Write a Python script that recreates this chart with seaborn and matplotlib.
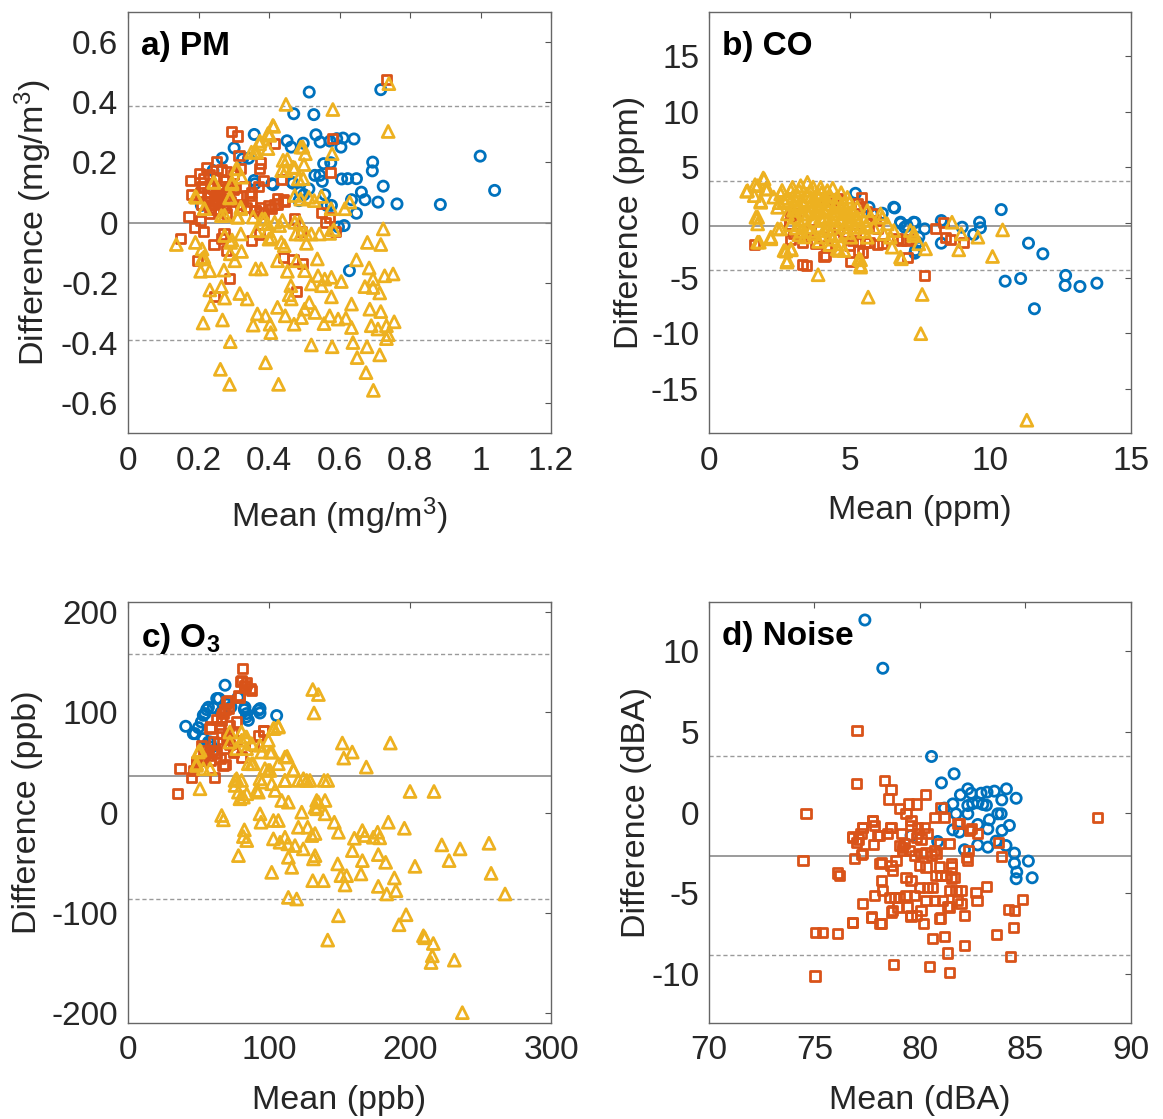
import pandas as pd
import matplotlib
matplotlib.use('Agg')
import matplotlib.pyplot as plt
import seaborn as sns
from matplotlib.ticker import FuncFormatter

# ---- data (mean, difference) ----
pm_blue = [(0.514, 0.434), (0.717, 0.442), (0.470, 0.362), (0.527, 0.359), (0.358, 0.293), (0.533, 0.292),
           (0.451, 0.272), (0.463, 0.251), (0.497, 0.264), (0.573, 0.271), (0.610, 0.281), (0.641, 0.278),
           (0.604, 0.251), (0.301, 0.248), (0.999, 0.221), (0.342, 0.214), (0.267, 0.214), (0.575, 0.199),
           (0.694, 0.201), (0.693, 0.172), (1.040, 0.107), (0.544, 0.157), (0.551, 0.137), (0.623, 0.146),
           (0.648, 0.146), (0.724, 0.121), (0.513, 0.112), (0.468, 0.131), (0.412, 0.126), (0.358, 0.140),
           (0.558, 0.093), (0.662, 0.101), (0.499, 0.093), (0.634, 0.076), (0.672, 0.076), (0.709, 0.068),
           (0.763, 0.062), (0.886, 0.060), (0.485, 0.073), (0.577, 0.057), (0.648, 0.031), (0.613, -0.010),
           (0.628, -0.160), (0.208, 0.057), (0.241, 0.173), (0.360, 0.129), (0.325, 0.212), (0.408, 0.129),
           (0.465, 0.134), (0.488, 0.101), (0.530, 0.157), (0.555, 0.196), (0.545, 0.268), (0.592, 0.279),
           (0.564, 0.057), (0.597, -0.015), (0.606, 0.145)]
pm_orange = [(0.733, 0.476), (0.293, 0.304), (0.310, 0.288), (0.581, 0.279), (0.416, 0.262), (0.315, 0.223),
             (0.251, 0.204), (0.376, 0.198), (0.374, 0.179), (0.222, 0.184), (0.203, 0.164), (0.574, 0.166),
             (0.178, 0.140), (0.435, 0.142), (0.180, 0.093), (0.208, 0.118), (0.345, 0.090), (0.373, 0.034),
             (0.360, 0.040), (0.425, 0.062), (0.444, 0.071), (0.407, 0.046), (0.549, 0.034), (0.572, 0.018),
             (0.560, 0.001), (0.473, 0.012), (0.173, 0.021), (0.206, 0.007), (0.189, -0.016), (0.215, -0.030),
             (0.148, -0.054), (0.244, -0.073), (0.272, -0.038), (0.265, -0.054), (0.350, -0.060), (0.374, -0.038),
             (0.492, -0.029), (0.589, -0.029), (0.196, -0.127), (0.279, -0.093), (0.440, -0.116), (0.468, -0.124),
             (0.495, -0.136), (0.287, -0.186), (0.478, -0.229), (0.246, -0.247),
             (0.215, 0.120), (0.225, 0.100), (0.235, 0.130), (0.245, 0.090), (0.255, 0.110), (0.265, 0.080),
             (0.225, 0.070), (0.240, 0.060), (0.250, 0.075), (0.260, 0.095), (0.270, 0.060), (0.280, 0.090),
             (0.230, 0.085), (0.245, 0.045), (0.260, 0.040), (0.275, 0.050), (0.290, 0.070), (0.300, 0.110),
             (0.310, 0.085), (0.285, 0.120), (0.270, 0.140), (0.250, 0.150), (0.230, 0.160), (0.215, 0.145),
             (0.205, 0.100), (0.240, 0.115), (0.255, 0.065), (0.265, 0.120), (0.235, 0.050), (0.280, 0.030),
             (0.320, 0.060), (0.335, 0.050), (0.350, 0.070), (0.360, 0.040), (0.375, 0.050), (0.385, 0.030),
             (0.400, 0.055), (0.415, 0.060), (0.425, 0.080), (0.440, 0.075), (0.350, 0.100), (0.330, 0.120),
             (0.370, 0.120), (0.385, 0.140), (0.280, 0.170), (0.300, 0.160), (0.265, 0.175), (0.320, 0.180),
             (0.230, 0.030), (0.210, 0.060)]
pm_yellow = [(0.740, 0.462), (0.448, 0.393), (0.581, 0.376), (0.738, 0.303), (0.413, 0.320), (0.397, 0.296),
             (0.374, 0.271), (0.350, 0.234), (0.365, 0.234), (0.397, 0.246), (0.496, 0.251), (0.503, 0.229),
             (0.579, 0.229), (0.452, 0.210), (0.499, 0.193), (0.473, 0.182), (0.448, 0.173), (0.310, 0.179),
             (0.322, 0.151), (0.497, 0.146), (0.244, 0.134), (0.295, 0.129), (0.191, 0.087), (0.288, 0.082),
             (0.473, 0.090), (0.528, 0.073), (0.549, 0.087), (0.629, 0.068), (0.615, 0.046), (0.216, 0.046),
             (0.320, 0.051), (0.265, 0.023), (0.312, 0.018), (0.388, 0.012), (0.416, 0.001), (0.473, 0.001),
             (0.487, 0.001), (0.430, -0.010), (0.364, -0.027), (0.397, -0.027), (0.520, -0.038), (0.543, -0.038),
             (0.572, -0.036), (0.584, -0.024), (0.724, -0.021), (0.137, -0.073), (0.191, -0.066), (0.210, -0.088),
             (0.295, -0.058), (0.322, -0.096), (0.291, -0.066), (0.407, -0.049), (0.435, -0.066), (0.443, -0.077),
             (0.506, -0.069), (0.679, -0.066), (0.717, -0.073), (0.210, -0.121), (0.303, -0.127), (0.424, -0.127),
             (0.537, -0.121), (0.478, -0.127), (0.648, -0.124), (0.206, -0.162), (0.232, -0.160), (0.272, -0.158),
             (0.362, -0.154), (0.378, -0.154), (0.452, -0.162), (0.501, -0.160), (0.684, -0.151), (0.539, -0.177),
             (0.558, -0.188), (0.577, -0.182), (0.605, -0.196), (0.520, -0.204), (0.549, -0.210), (0.695, -0.188),
             (0.728, -0.177), (0.752, -0.171), (0.672, -0.213), (0.695, -0.216), (0.462, -0.210), (0.265, -0.213),
             (0.232, -0.224), (0.317, -0.236), (0.338, -0.254), (0.457, -0.240), (0.463, -0.254), (0.274, -0.251),
             (0.714, -0.234), (0.577, -0.247), (0.235, -0.273), (0.514, -0.266), (0.634, -0.271), (0.424, -0.282),
             (0.501, -0.288), (0.530, -0.299), (0.367, -0.304), (0.390, -0.310), (0.446, -0.310), (0.492, -0.316),
             (0.572, -0.310), (0.596, -0.321), (0.618, -0.318), (0.686, -0.288), (0.717, -0.296), (0.213, -0.334),
             (0.268, -0.324), (0.355, -0.341), (0.403, -0.338), (0.471, -0.338), (0.556, -0.336), (0.634, -0.349),
             (0.690, -0.343), (0.709, -0.354), (0.733, -0.343), (0.755, -0.330), (0.405, -0.366), (0.738, -0.373),
             (0.733, -0.386), (0.290, -0.396), (0.520, -0.407), (0.579, -0.413), (0.638, -0.399), (0.678, -0.413),
             (0.714, -0.440), (0.650, -0.449), (0.390, -0.466), (0.262, -0.488), (0.675, -0.499), (0.288, -0.538),
             (0.427, -0.538), (0.696, -0.558),
             (0.411, 0.323), (0.402, 0.290), (0.373, 0.262), (0.359, 0.234), (0.490, 0.251), (0.440, 0.207),
             (0.468, 0.184), (0.483, 0.145), (0.436, 0.173), (0.307, 0.179), (0.295, 0.134), (0.243, 0.134),
             (0.194, 0.084), (0.217, 0.046), (0.290, 0.084), (0.320, 0.046), (0.274, 0.024), (0.310, 0.018),
             (0.355, 0.018), (0.380, 0.012), (0.396, -0.004), (0.438, 0.007), (0.490, 0.078), (0.513, 0.084),
             (0.576, 0.046), (0.476, -0.038), (0.490, -0.038), (0.505, -0.038), (0.274, -0.043), (0.320, -0.038),
             (0.400, -0.055), (0.290, -0.104), (0.215, -0.115)]

co_blue = [(5.21, 2.64), (6.60, 1.32), (5.80, 0.78), (6.16, 0.84), (6.81, -0.06), (6.96, -0.42), (7.32, 0.00),
           (7.67, -0.57), (8.26, 0.18), (9.00, -0.42), (9.41, -1.08), (9.62, 0.03), (9.65, -0.48), (10.39, 1.17),
           (7.32, -2.76), (8.26, -1.86), (11.36, -1.86), (11.87, -2.82), (10.53, -5.29), (11.08, -5.05),
           (11.57, -7.78), (12.68, -4.77), (12.66, -5.68), (13.19, -5.77), (13.79, -5.47), (4.27, 2.13),
           (7.46, -1.32), (5.69, 1.38), (6.57, 1.38), (6.81, 0.03), (7.04, -0.27), (7.28, 0.03), (7.40, -1.77),
           (7.34, -2.52)]
co_orange = [(5.43, 2.28), (5.35, 1.38), (4.44, 1.98), (1.61, -2.01), (3.32, -3.81), (3.46, -3.87), (4.09, -3.06),
             (4.17, -2.16), (5.04, -3.51), (5.45, -2.67), (5.69, -1.77), (5.98, -1.98), (6.16, -1.92), (6.84, -1.62),
             (7.05, -3.12), (7.13, -1.56), (8.05, -0.57), (8.40, -1.32), (8.58, -1.56), (9.05, -1.77), (8.35, 0.03),
             (7.66, -4.77), (2.85, -0.12), (3.09, 0.78), (3.32, -1.77), (4.03, -1.32), (5.10, -1.62), (5.27, 1.68),
             (4.56, 2.13), (4.15, 2.13), (5.80, 0.78), (5.92, 0.18), (2.91, 0.93), (2.85, -0.12), (4.21, -2.07),
             (4.15, -2.97), (5.33, -2.52), (5.57, -1.77), (6.69, -1.47), (7.04, -1.62), (3.60, -0.60), (4.80, -0.90),
             (5.60, 1.00), (6.00, -0.50), (5.20, -1.00), (4.60, -0.60), (3.00, -1.00), (3.80, -1.90), (5.00, -2.10),
             (2.90, -1.50)]
co_yellow = [(1.96, 3.93), (1.73, 3.33), (1.37, 2.88), (2.08, 3.03), (1.61, 2.43), (1.84, 1.83), (1.67, 0.48),
             (1.73, -0.12), (2.55, 2.58), (2.67, 1.98), (2.44, 1.38), (2.79, 0.78), (2.97, 3.18), (3.26, 3.33),
             (3.50, 3.63), (3.97, 3.18), (3.15, 2.43), (3.38, 1.68), (3.62, 2.28), (3.85, 1.38), (4.09, 1.98),
             (4.27, 1.68), (4.44, 1.08), (4.68, 1.38), (4.92, 2.28), (5.09, 1.08), (5.27, 0.48), (5.51, 0.18),
             (5.74, 0.48), (6.10, 0.78), (6.34, -0.12), (6.57, -0.72), (6.22, -1.02), (3.50, 0.78), (3.74, 0.18),
             (3.26, -0.12), (3.03, 0.48), (3.97, 0.48), (4.21, 0.18), (4.44, -0.12), (4.68, 0.18), (4.92, -0.12),
             (5.15, -0.42), (5.39, -0.42), (3.50, -0.42), (3.74, -1.02), (4.09, -0.72), (4.33, -1.02), (4.56, -2.37),
             (4.80, -2.52), (4.68, -1.92), (2.67, -2.52), (2.91, -2.37), (2.79, -3.42), (2.55, -0.57), (2.20, -1.32),
             (1.79, -1.77), (5.33, -3.27), (5.39, -3.87), (7.16, -0.72), (7.28, -1.17), (6.81, -3.12), (5.04, -1.32),
             (5.63, -1.32), (5.86, -0.42), (3.15, 1.38), (3.85, 2.58), (4.21, 2.88), (4.56, 2.28), (3.38, 0.78),
             (4.09, 1.08), (4.92, 0.78), (4.44, 0.48), (3.62, 1.08), (3.97, 1.68), (4.80, 1.68), (5.27, 1.38),
             (5.63, 1.08), (3.03, 1.68), (2.91, 2.88), (3.88, -4.71), (5.66, -6.73), (7.58, -6.49), (7.53, -10.03),
             (11.30, -17.84), (8.64, 0.03), (8.97, -1.02), (9.56, -1.32), (8.88, -2.46), (10.44, -0.66),
             (10.08, -3.06), (6.84, -3.27), (7.28, -0.96), (7.46, -1.92), (7.70, -2.37), (5.39, -3.36),
             (5.39, -4.02), (4.62, -2.52), (6.45, -1.32), (6.51, -2.22), (6.16, 0.48), (2.77, -3.57), (2.93, -2.46),
             (2.73, -2.58), (1.73, -1.77), (2.20, -1.47), (2.44, -0.57), (1.93, 4.02), (1.34, 2.82), (1.64, 3.42),
             (2.02, 3.03), (1.84, 1.92), (1.73, 0.48),
             (3.30, 2.00), (3.60, 1.60), (3.90, 2.20), (4.30, 2.40), (4.60, 1.90), (4.90, 1.20), (3.40, 0.30),
             (3.80, 0.90), (4.10, 0.40), (4.50, 0.80), (4.80, -0.40), (5.10, 0.20), (3.10, -0.50), (3.60, -0.80),
             (4.00, -1.30), (4.40, -1.50), (4.90, -0.90), (5.50, -0.80), (3.20, 2.90), (3.70, 3.20), (4.00, 2.70),
             (4.40, 3.10), (2.80, 2.20), (2.50, 1.80), (3.00, 1.10),
             (3.20, 1.60), (3.50, 2.40), (3.80, 1.90), (4.20, 1.30), (4.50, 1.60), (4.70, 0.40), (5.00, 0.60),
             (3.30, -0.80), (3.90, -0.30), (4.20, -0.50), (4.60, -1.20), (5.30, -0.10), (5.60, -0.20), (3.60, 2.90),
             (4.70, 2.70), (5.00, 1.80), (2.90, -0.20), (3.00, 2.40), (2.60, 2.90), (2.30, 2.30), (3.40, -1.30),
             (3.90, -1.70), (4.30, -2.00), (3.20, -1.10)]

o3_blue = [(68.8, 127.0), (64.5, 113.7), (78.0, 114.7), (55.8, 102.7), (60.5, 104.7), (53.4, 97.0), (52.0, 90.3),
           (49.9, 84.7), (40.9, 86.0), (46.3, 78.7), (93.6, 103.7), (93.6, 99.3), (105.4, 96.7), (84.0, 95.3),
           (82.5, 102.7), (73.0, 105.3), (57.0, 70.3), (59.3, 65.3), (62.9, 113.7), (57.0, 105.0), (54.6, 98.7),
           (47.5, 78.7), (53.4, 73.7), (58.2, 70.3), (82.9, 105.0), (84.1, 98.7), (92.4, 102.0), (85.3, 92.0),
           (70.0, 108.0), (66.0, 100.0)]
o3_orange = [(81.0, 143.7), (80.1, 131.0), (84.0, 129.3), (86.5, 123.7), (87.5, 122.0), (83.0, 126.0), (78.7, 117.0),
             (71.0, 112.0), (68.8, 102.7), (66.4, 95.3), (63.0, 93.0), (58.9, 85.3), (96.0, 81.3), (66.4, 78.7),
             (36.9, 43.7), (35.2, 18.7), (45.2, 35.3), (61.2, 35.3), (48.7, 50.3), (68.8, 47.7), (54.6, 58.7),
             (61.7, 60.3), (75.0, 60.0), (80.6, 55.3), (80.5, 132.0), (82.9, 127.0), (79.3, 115.3), (69.8, 110.3),
             (71.0, 103.7), (67.4, 98.7), (66.2, 92.0), (65.0, 85.3), (72.2, 87.0), (58.2, 83.7), (76.9, 90.3),
             (60.5, 70.3), (55.8, 62.0), (52.2, 67.0), (62.9, 58.7), (65.2, 53.7), (58.2, 52.0), (51.1, 52.0),
             (48.7, 48.7), (46.3, 42.0), (67.4, 47.0), (95.9, 82.0), (92.4, 77.0), (88.8, 67.0), (74.6, 62.0),
             (53.4, 55.3), (70.0, 75.0), (72.0, 68.0), (68.0, 64.0), (64.0, 70.0), (74.0, 80.0), (77.0, 72.0),
             (60.0, 62.0), (57.0, 57.0)]
o3_yellow = [(131.0, 122.7), (135.0, 117.7), (131.9, 99.3), (106.6, 86.0), (103.7, 84.0), (83.0, 75.3), (152.0, 69.3),
             (159.0, 60.3), (153.0, 54.3), (186.0, 69.3), (169.0, 45.3), (112.8, 56.0), (117.3, 42.7), (102.0, 60.3),
             (87.7, 48.7), (99.5, 42.0), (120.8, 32.0), (126.7, 32.0), (111.3, 32.0), (139.0, 32.0), (141.6, 32.0),
             (200.0, 21.0), (217.0, 21.0), (51.0, 23.7), (49.9, 60.3), (48.5, 47.0), (75.9, 32.0), (78.3, 20.3),
             (81.8, 15.3), (91.2, 22.0), (94.8, 30.3), (101.9, 28.7), (104.3, 22.0), (109.0, 12.0), (113.7, 10.3),
             (133.8, 12.0), (139.7, 12.0), (132.6, 5.3), (139.7, -1.3), (123.2, 0.3), (66.4, -3.0), (67.6, -7.3),
             (93.6, -1.3), (94.3, -9.7), (103.1, -8.0), (106.6, -8.0), (82.5, -17.3), (81.8, -24.0), (84.2, -28.0),
             (103.1, -26.3), (107.8, -29.7), (111.3, -24.7), (113.3, -31.3), (118.4, -33.0), (120.8, -14.7),
             (127.4, -14.7), (130.3, -23.0), (124.3, -36.3), (132.6, -21.0), (146.3, -9.7), (149.2, -19.7),
             (132.6, -43.0), (131.5, -46.3), (113.7, -44.7), (116.1, -54.7), (78.3, -43.0), (101.9, -59.7),
             (131.0, -68.0), (138.5, -68.0), (148.7, -51.3), (151.0, -63.0), (155.0, -63.0), (153.9, -72.3),
             (160.5, -25.7), (166.2, -18.0), (168.0, -23.0), (174.0, -24.7), (177.0, -19.7), (178.5, -25.3),
             (159.1, -38.0), (166.2, -48.0), (177.5, -42.0), (182.7, -49.7), (165.2, -61.3), (184.6, -9.7),
             (196.0, -15.7), (203.5, -53.7), (188.9, -65.3), (177.5, -73.7), (190.0, -78.0), (183.5, -81.3),
             (113.7, -84.7), (119.6, -86.3), (222.5, -32.3), (227.7, -48.0), (235.5, -36.3), (256.0, -30.7),
             (257.5, -60.7), (267.4, -81.3), (149.2, -103.0), (197.2, -102.0), (192.2, -112.0), (141.6, -127.3),
             (209.5, -123.0), (210.5, -125.0), (216.5, -130.7), (215.8, -143.0), (214.9, -149.7), (231.4, -147.3),
             (237.1, -199.7), (72.2, 80.3), (80.5, 80.3), (84.1, 75.3), (80.5, 72.0), (87.6, 68.7), (77.0, 63.7),
             (84.1, 63.7), (72.2, 70.3), (51.1, 62.0), (48.7, 48.7), (53.4, 43.7), (58.2, 43.7), (103.0, 83.7),
             (106.6, 85.3), (99.5, 72.0), (100.7, 60.3), (94.8, 60.3), (93.6, 67.0), (111.3, 55.3), (106.6, 48.7),
             (88.8, 48.7), (85.3, 48.7), (97.1, 43.7), (100.7, 42.0), (117.3, 42.0), (124.4, 33.7), (129.0, 32.0),
             (111.3, 32.0), (77.0, 33.7), (80.5, 32.0), (93.6, 33.7), (75.9, 27.0), (79.4, 13.7), (84.2, 18.7),
             (92.4, 20.3), (135.0, 10.3), (133.8, 3.7)]

noise_blue = [(77.39, 11.89), (78.24, 8.91), (80.55, 3.46), (81.62, 2.39), (81.02, 1.83), (81.92, 1.09),
              (82.27, 1.46), (82.43, 1.19), (82.90, 1.19), (83.18, 1.26), (83.53, 1.32), (84.10, 1.46),
              (84.56, 0.88), (83.88, 0.78), (81.56, 0.53), (81.16, 0.27), (81.71, -0.08), (82.27, 0.43),
              (82.50, 0.55), (82.75, 0.60), (82.98, 0.50), (83.15, 0.45), (82.27, -0.08), (83.29, -0.45),
              (83.69, -0.08), (83.85, -0.08), (84.24, -0.80), (82.74, -0.74), (81.56, -1.07), (81.87, -1.21),
              (83.22, -1.01), (83.89, -1.11), (80.84, -1.79), (82.74, -2.00), (83.22, -2.14), (83.61, -1.77),
              (84.08, -2.04), (84.48, -2.51), (85.14, -3.00), (84.48, -3.13), (84.59, -3.68), (84.56, -4.09),
              (85.32, -4.03), (82.11, -2.30), (79.58, -1.42)]
noise_orange = [(77.02, 5.06), (76.99, 1.77), (78.32, 1.98), (78.63, 1.40), (78.51, 0.84), (74.60, -0.08),
                (74.46, -2.96), (88.43, -0.31), (79.03, 0.23), (79.46, 0.53), (79.85, 0.53), (80.25, 1.11),
                (81.00, 0.33), (80.69, -0.29), (81.16, -0.29), (81.87, -0.70), (83.72, -1.83), (83.85, -2.72),
                (83.14, -4.57), (84.87, -5.37), (84.19, -6.00), (84.48, -6.05), (76.79, -6.81), (75.05, -7.39),
                (75.40, -7.39), (76.11, -7.49), (80.61, -7.76), (81.16, -7.65), (83.64, -7.53), (84.45, -7.08),
                (82.11, -8.21), (81.32, -8.68), (84.29, -8.89), (78.76, -9.38), (80.45, -9.51), (81.40, -9.86),
                (75.03, -10.10), (76.10, -3.74), (76.18, -3.89), (82.66, -4.92), (82.71, -5.43), (81.95, -5.60),
                (81.32, -5.80), (82.43, -1.01), (82.74, -1.32), (79.58, -0.49), (79.34, -0.08), (79.90, -1.32),
                (77.69, -6.50), (78.11, -6.87), (79.58, -6.42), (80.18, -6.87), (80.96, -6.52), (78.64, -6.15),
                (77.24, -2.61), (77.80, -1.98), (78.11, -3.13), (77.76, -0.53), (77.28, -0.91), (76.82, -1.48),
                (77.10, -1.63), (78.47, -1.32), (78.60, -0.91), (78.00, -1.42), (79.19, -2.14), (80.69, -2.35),
                (82.27, -2.96), (82.30, -2.35), (81.48, -3.37),
                (77.77, -0.49), (77.84, -0.80), (77.29, -0.91), (76.82, -1.52), (76.98, -1.83), (77.21, -1.32),
                (78.08, -1.42), (78.63, -0.91), (79.11, -1.32), (79.58, -0.80), (79.90, -0.91), (80.21, -0.91),
                (80.37, -1.32), (80.05, -1.63), (79.82, -1.52), (79.26, -1.93), (79.03, -2.04), (79.19, -2.35),
                (79.50, -2.35), (79.74, -2.65), (80.05, -2.55), (80.29, -2.45), (80.53, -2.65), (80.76, -2.55),
                (80.92, -1.93), (81.40, -1.93), (81.48, -3.17), (80.92, -3.37), (80.76, -3.89), (81.00, -3.89),
                (81.24, -3.89), (81.48, -4.09), (81.63, -3.99), (80.29, -3.37), (79.97, -3.27), (80.37, -4.61),
                (79.97, -4.61), (80.61, -4.61), (81.40, -4.81), (81.71, -4.81), (81.95, -4.81), (81.79, -5.43),
                (81.08, -5.43), (80.69, -5.43), (80.29, -5.43), (79.74, -5.12), (79.34, -5.12), (79.03, -5.23),
                (78.79, -5.23), (78.55, -5.23), (78.95, -5.84), (78.71, -6.05), (79.42, -5.84), (78.16, -4.20),
                (78.24, -4.81), (77.84, -5.12), (77.29, -5.64), (77.69, -6.46), (78.16, -6.87), (76.82, -6.77),
                (77.29, -2.55), (76.90, -2.86), (78.16, -3.07), (78.71, -3.58), (78.63, -3.27), (78.87, -2.96),
                (79.34, -3.99), (79.58, -4.20), (79.82, -6.36), (79.58, -6.36), (80.05, -6.05), (80.92, -6.56),
                (81.40, -5.84), (82.19, -2.76), (82.11, -6.36), (81.79, -0.70), (82.34, -1.11)]

# bias (solid) and limits of agreement (dashed): lower, mean, upper
pm_lines = [-0.390, 0.0, 0.388]
co_lines = [-4.32, -0.27, 3.75]
o3_lines = [-86, 36, 158]
noise_lines = [-8.83, -2.67, 3.48]

BLUE, ORANGE, YELLOW = '#0072BD', '#D95319', '#EDB120'

sns.set_style('white')
plt.rcParams['font.family'] = ['Liberation Sans', 'DejaVu Sans']
plt.rcParams['mathtext.fontset'] = 'custom'
plt.rcParams['mathtext.rm'] = 'Liberation Sans'
plt.rcParams['mathtext.it'] = 'Liberation Sans:italic'
plt.rcParams['mathtext.bf'] = 'Liberation Sans:bold'
plt.rcParams['axes.unicode_minus'] = False


def panel(ax, blue, orange, yellow, lines, xlim, ylim, xticks, yticks, title, xlabel, ylabel, ylab_x):
    lo, mid, hi = lines
    ax.axhline(mid, color='#8a8a8a', lw=1.2, zorder=1)
    ax.axhline(lo, color='#9a9a9a', lw=1.0, ls=(0, (3, 2)), zorder=1)
    ax.axhline(hi, color='#9a9a9a', lw=1.0, ls=(0, (3, 2)), zorder=1)
    for pts, mk, col, s in [(blue, 'o', BLUE, 54), (orange, 's', ORANGE, 44), (yellow, '^', YELLOW, 74)]:
        if not pts:
            continue
        df = pd.DataFrame(pts, columns=['mean', 'diff'])
        sns.scatterplot(data=df, x='mean', y='diff', marker=mk, s=s, facecolor='none',
                        edgecolor=col, linewidth=2.0, ax=ax, zorder=3, legend=False)
    ax.set_xlim(xlim)
    ax.set_ylim(ylim)
    ax.set_xticks(xticks)
    ax.set_yticks(yticks)
    fmt = FuncFormatter(lambda v, p: '%g' % v)
    ax.xaxis.set_major_formatter(fmt)
    ax.yaxis.set_major_formatter(fmt)
    ax.tick_params(direction='in', top=True, right=True, length=4, width=0.8,
                   color='#555555', labelcolor='#262626', labelsize=24)
    ax.tick_params(axis='x', pad=9)
    ax.tick_params(axis='y', pad=7)
    for sp in ax.spines.values():
        sp.set_color('#666666')
        sp.set_linewidth(1.0)
    ax.set_xlabel(xlabel, fontsize=24.5, color='#262626')
    ax.set_ylabel(ylabel, fontsize=24.5, color='#262626')
    ax.xaxis.set_label_coords(0.5, -0.148)
    ax.yaxis.set_label_coords(ylab_x, 0.5)
    ax.text(0.03, 0.955, title, transform=ax.transAxes, ha='left', va='top',
            fontsize=24, fontweight='bold', color='black')


fig = plt.figure(figsize=(11.63, 11.19), dpi=100)
ax_a = fig.add_axes([0.1101, 0.6130, 0.3637, 0.3762])
ax_b = fig.add_axes([0.6096, 0.6130, 0.3628, 0.3762])
ax_c = fig.add_axes([0.1101, 0.0858, 0.3637, 0.3762])
ax_d = fig.add_axes([0.6096, 0.0858, 0.3628, 0.3762])

panel(ax_a, pm_blue, pm_orange, pm_yellow, pm_lines, (0, 1.2), (-0.7, 0.7),
      [0, 0.2, 0.4, 0.6, 0.8, 1.0, 1.2], [-0.6, -0.4, -0.2, 0, 0.2, 0.4, 0.6],
      'a) PM', 'Mean (mg/m$^3$)', 'Difference (mg/m$^3$)', -0.175)
panel(ax_b, co_blue, co_orange, co_yellow, co_lines, (0, 15), (-19, 19),
      [0, 5, 10, 15], [-15, -10, -5, 0, 5, 10, 15],
      'b) CO', 'Mean (ppm)', 'Difference (ppm)', -0.152)
panel(ax_c, o3_blue, o3_orange, o3_yellow, o3_lines, (0, 300), (-210, 210),
      [0, 100, 200, 300], [-200, -100, 0, 100, 200],
      r'c) O$_\mathbf{3}$', 'Mean (ppb)', 'Difference (ppb)', -0.200)
panel(ax_d, noise_blue, noise_orange, [], noise_lines, (70, 90), (-13, 13),
      [70, 75, 80, 85, 90], [-10, -5, 0, 5, 10],
      'd) Noise', 'Mean (dBA)', 'Difference (dBA)', -0.135)

fig.savefig('out.png', dpi=100)
